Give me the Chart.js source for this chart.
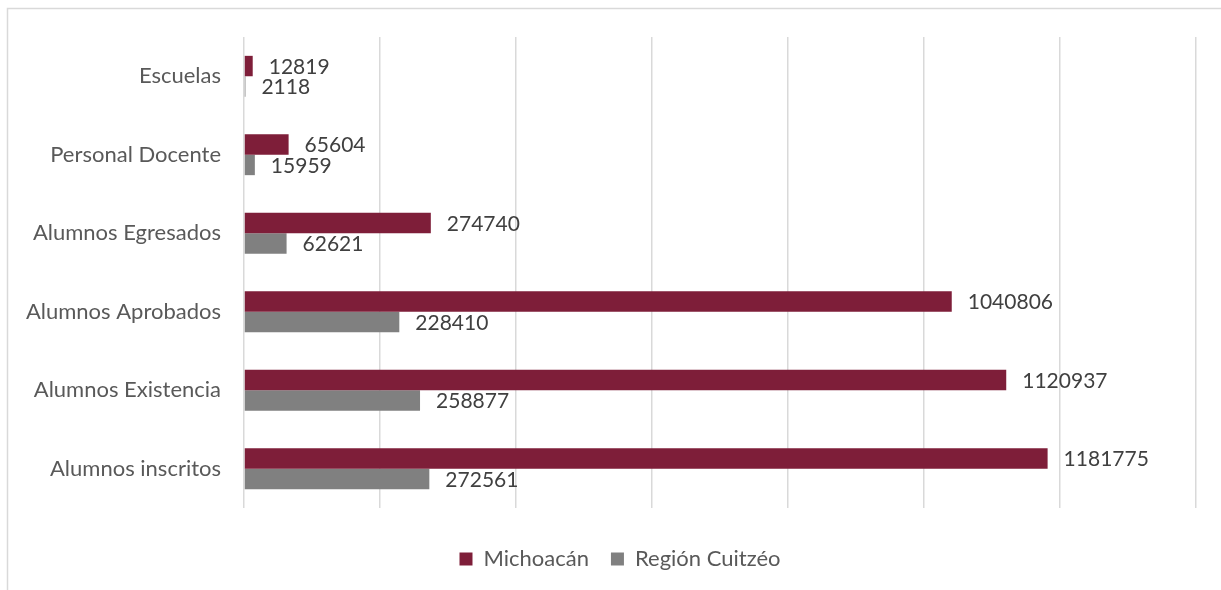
<!DOCTYPE html>
<html>
<head>
<meta charset="utf-8">
<script src="https://cdn.jsdelivr.net/npm/chart.js@4/dist/chart.umd.min.js"></script>
<style>
  html, body { margin: 0; padding: 0; background: #fff; }
  #wrap { position: relative; width: 1221px; height: 590px; overflow: hidden; }
</style>
</head>
<body>
<div id="wrap"><canvas id="eduChart" width="1221" height="590"></canvas></div>
<script>
// Data
const categories = ["Escuelas", "Personal Docente", "Alumnos Egresados", "Alumnos Aprobados", "Alumnos Existencia", "Alumnos inscritos"];
const michoacan = [12819, 65604, 274740, 1040806, 1120937, 1181775];
const cuitzeo = [2118, 15959, 62621, 228410, 258877, 272561];
const seriesNames = ["Michoacán", "Región Cuitzéo"];

const FONT = "Lato, 'Open Sans', sans-serif";

// light frame around the chart area, like the office export
const framePlugin = {
  id: "frame",
  beforeDraw: (chart) => {
    const ctx = chart.ctx;
    ctx.save();
    ctx.fillStyle = "#fff";
    ctx.fillRect(0, 0, chart.width, chart.height);
    ctx.strokeStyle = "#d9d9d9";
    ctx.lineWidth = 1.5;
    ctx.strokeRect(7.5, 8.5, chart.width + 20, chart.height + 20);
    ctx.restore();
  },
  // legend sits a little right of the canvas centre in the original
  afterLayout: (chart) => {
    chart.legend.left += 22;
    chart.legend.right += 22;
  },
};

// values written after the end of each bar
const valueLabels = {
  id: "valueLabels",
  afterDatasetsDraw: (chart) => {
    const ctx = chart.ctx;
    ctx.save();
    ctx.font = "21px " + FONT;
    ctx.fillStyle = "#404040";
    ctx.textAlign = "left";
    ctx.textBaseline = "middle";
    chart.data.datasets.forEach((ds, i) => {
      chart.getDatasetMeta(i).data.forEach((bar, j) => {
        ctx.fillText(String(ds.data[j]), bar.x + 16, bar.y + 1);
      });
    });
    ctx.restore();
  },
};

const ctx = document.getElementById("eduChart").getContext("2d");
new Chart(ctx, {
  type: "bar",
  data: {
    labels: categories,
    datasets: [
      {
        label: seriesNames[0],
        data: michoacan,
        backgroundColor: "#7e1e39",
        borderWidth: 0,
        categoryPercentage: 0.52,
        barPercentage: 1,
      },
      {
        label: seriesNames[1],
        data: cuitzeo,
        backgroundColor: "#808080",
        borderWidth: 0,
        categoryPercentage: 0.52,
        barPercentage: 1,
      },
    ],
  },
  options: {
    indexAxis: "y",
    responsive: false,
    animation: false,
    layout: { padding: { top: 37, left: 0, right: 25, bottom: 10 } },
    scales: {
      x: {
        min: 0,
        max: 1400000,
        ticks: { display: false, stepSize: 200000 },
        grid: { color: "#d9d9d9", lineWidth: 1.5, drawTicks: false },
        border: { display: false },
        afterFit: (scale) => { scale.height = 18; },
      },
      y: {
        ticks: { color: "#595959", font: { family: FONT, size: 22 }, padding: 23 },
        grid: { display: false, drawTicks: false },
        border: { display: false },
        afterFit: (scale) => { scale.width = 244; },
      },
    },
    plugins: {
      legend: {
        position: "bottom",
        labels: {
          color: "#595959",
          font: { family: FONT, size: 22 },
          boxWidth: 13,
          boxHeight: 13,
          padding: 22,
        },
      },
      tooltip: { enabled: false },
    },
  },
  plugins: [framePlugin, valueLabels],
});
</script>
</body>
</html>
